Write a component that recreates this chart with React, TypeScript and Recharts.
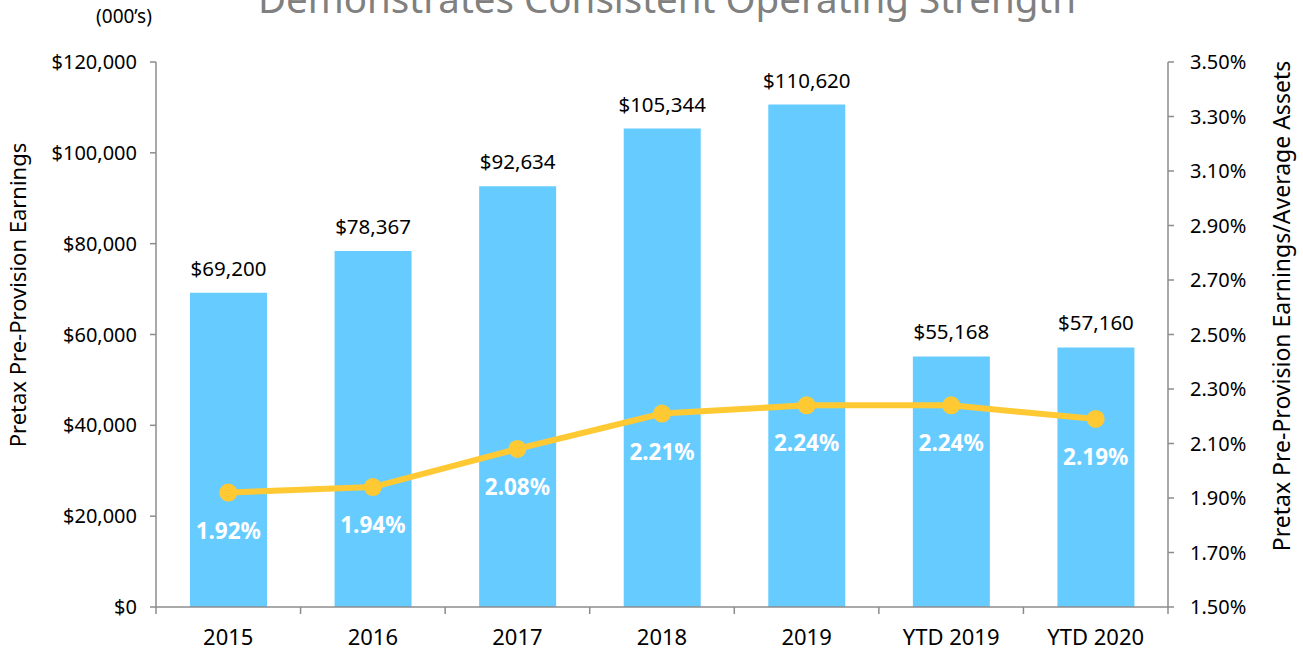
import React from 'react';
import { ComposedChart, Bar, Line, XAxis, YAxis, LabelList } from 'recharts';

const categories = ['2015', '2016', '2017', '2018', '2019', 'YTD 2019', 'YTD 2020'];
const earnings = [69200, 78367, 92634, 105344, 110620, 55168, 57160];
const ratio = [1.92, 1.94, 2.08, 2.21, 2.24, 2.24, 2.19];
const leftTicks = [0, 20000, 40000, 60000, 80000, 100000, 120000];
const rightTicks = [1.5, 1.7, 1.9, 2.1, 2.3, 2.5, 2.7, 2.9, 3.1, 3.3, 3.5];

const W = 1303;
const H = 652;
const FONT = "'Noto Sans', 'Open Sans', sans-serif";
const AXIS = '#8c8c8c';
const BAR = '#66CCFF';
const LINE = '#FFC933';

const fmtMoney = (v: number) => '$' + v.toLocaleString('en-US');
const fmtPct = (v: number) => v.toFixed(2) + '%';

const XTick = (props: any) => {
  const { x, y, payload } = props;
  const half = payload && payload.offset ? payload.offset : 0;
  const isLast = payload && payload.index === categories.length - 1;
  const top = y - 8;
  return (
    <g>
      <line x1={x - half} x2={x - half} y1={top} y2={top + 7} stroke={AXIS} strokeWidth={1.5} />
      {isLast ? <line x1={x + half} x2={x + half} y1={top} y2={top + 7} stroke={AXIS} strokeWidth={1.5} /> : null}
      <text x={x} y={top + 38} textAnchor="middle" fill="#000" fontSize={22} fontFamily={FONT}>
        {payload.value}
      </text>
    </g>
  );
};

const BarLabel = (props: any) => {
  const { x, y, width, value } = props;
  return (
    <text x={x + width / 2} y={y - 17} textAnchor="middle" fill="#000" fontSize={20.5} fontFamily={FONT}>
      {fmtMoney(value)}
    </text>
  );
};

const LineLabel = (props: any) => {
  const { x, y, value } = props;
  return (
    <text x={x} y={y + 46} textAnchor="middle" fill="#fff" fontSize={22.5} fontWeight="bold" fontFamily={FONT}>
      {fmtPct(value)}
    </text>
  );
};

export default function App() {
  const data = categories.map((c, i) => ({ name: c, earnings: earnings[i], ratio: ratio[i] }));
  return (
    <div style={{ position: 'absolute', left: 0, top: 0, width: W, height: H, background: '#fff', overflow: 'hidden' }}>
      <ComposedChart width={W} height={H} data={data} margin={{ top: 62, right: 0, bottom: 0, left: 0 }}>
        <XAxis
          dataKey="name"
          height={45}
          interval={0}
          axisLine={{ stroke: AXIS, strokeWidth: 1.5 }}
          tickLine={false}
          tick={<XTick />}
        />
        <YAxis
          yAxisId="l"
          orientation="left"
          width={156}
          domain={[0, 120000]}
          ticks={leftTicks}
          interval={0}
          tickFormatter={fmtMoney}
          axisLine={{ stroke: AXIS, strokeWidth: 1.5 }}
          tickLine={{ stroke: AXIS, strokeWidth: 1.5 }}
          tickSize={6}
          tickMargin={13}
          tick={{ fill: '#000', fontSize: 20, fontFamily: FONT }}
        />
        <YAxis
          yAxisId="r"
          orientation="right"
          width={135}
          domain={[1.5, 3.5]}
          ticks={rightTicks}
          interval={0}
          tickFormatter={fmtPct}
          axisLine={{ stroke: AXIS, strokeWidth: 1.5 }}
          tickLine={{ stroke: AXIS, strokeWidth: 1.5 }}
          tickSize={6}
          tickMargin={16}
          tick={{ fill: '#000', fontSize: 20, fontFamily: FONT }}
        />
        <Bar yAxisId="l" dataKey="earnings" fill={BAR} barSize={77} isAnimationActive={false}>
          <LabelList dataKey="earnings" content={<BarLabel />} />
        </Bar>
        <Line
          yAxisId="r"
          type="linear"
          dataKey="ratio"
          stroke={LINE}
          strokeWidth={6}
          dot={{ r: 9, fill: LINE, stroke: 'none' }}
          activeDot={false}
          isAnimationActive={false}
        >
          <LabelList dataKey="ratio" content={<LineLabel />} />
        </Line>
      </ComposedChart>
      <svg
        width={W}
        height={H}
        style={{ position: 'absolute', left: 0, top: 0, pointerEvents: 'none' }}
      >
        <text x={667} y={13} textAnchor="middle" fill="#808080" fontSize={38.5} fontFamily={FONT}>
          Demonstrates Consistent Operating Strength
        </text>
        <text x={124} y={23} textAnchor="middle" fill="#000" fontSize={19} fontFamily={FONT}>
          (000’s)
        </text>
        <text
          x={0}
          y={0}
          transform="translate(26, 295) rotate(-90)"
          textAnchor="middle"
          fill="#000"
          fontSize={22}
          fontFamily={FONT}
        >
          Pretax Pre-Provision Earnings
        </text>
        <text
          x={0}
          y={0}
          transform="translate(1290, 306) rotate(-90)"
          textAnchor="middle"
          fill="#000"
          fontSize={23}
          fontFamily={FONT}
        >
          Pretax Pre-Provision Earnings/Average Assets
        </text>
      </svg>
    </div>
  );
}
